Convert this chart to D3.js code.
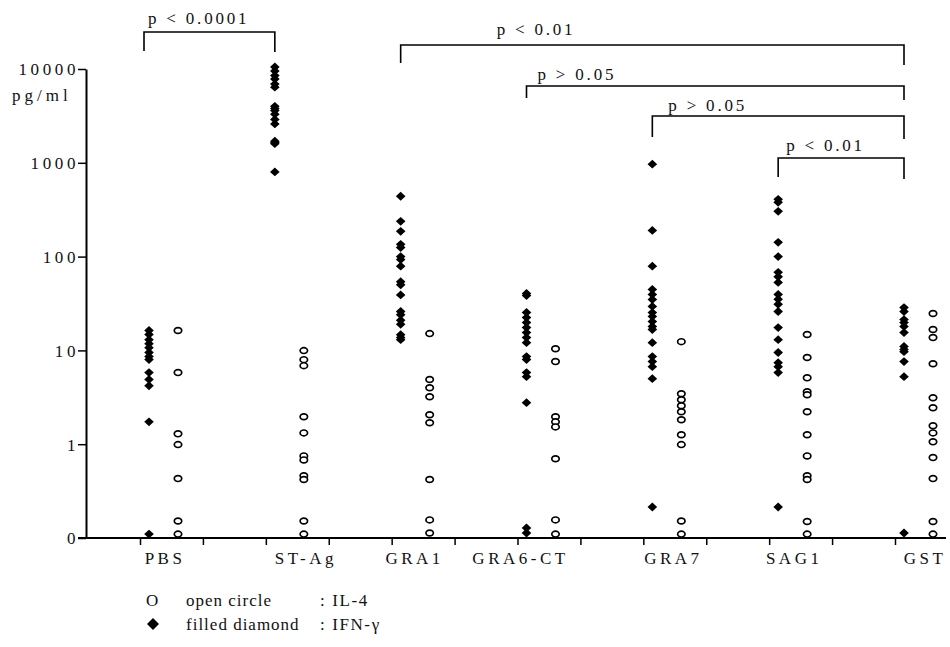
<!DOCTYPE html>
<html lang="en">
<head>
<meta charset="UTF-8">
<title>IFN-gamma / IL-4</title>
<script src="https://d3js.org/d3.v7.min.js"></script>
<style>
  body { margin: 0; background: #fff; }
  svg text { font-family: 'Liberation Serif', 'Times New Roman', 'DejaVu Serif', serif !important; fill: #111; }
</style>
</head>
<body>
<script>
// categories (x axis)
const categories = ["PBS", "ST-Ag", "GRA1", "GRA6-CT", "GRA7", "SAG1", "GST"];

// IFN-gamma, pg/ml (filled diamonds) -- 0.11 etc. are the "0" row
const pbsIFN   = [16.3, 14.8, 13, 11.8, 10.7, 9.5, 8.6, 8, 5.8, 4.9, 4.2, 1.73, 0.11];
const stagIFN  = [10500, 9500, 8500, 7800, 6900, 6400, 4000, 3800, 3600, 3300, 2900, 2600, 1700, 1650, 1600, 800];
const gra1IFN  = [440, 238, 186, 135, 125, 100, 93, 79, 54, 50, 39, 26, 24, 21, 19, 14.7, 13.7, 13];
const gra6IFN  = [40.5, 38.5, 25.4, 22.4, 19.8, 17.5, 15.5, 13.7, 12.1, 8.6, 8, 5.8, 5.25, 2.77, 0.128, 0.113];
const gra7IFN  = [966, 190, 79, 44.7, 39.5, 34.9, 29.4, 25.3, 23, 20.3, 18, 16.7, 12.1, 8.6, 7.6, 6.7, 5, 0.214];
const sag1IFN  = [408, 379, 304, 142, 100, 68, 61, 53, 39.5, 35, 31, 26, 17.5, 13, 9.5, 7.4, 6.7, 5.8, 0.214];
const gstIFN   = [28.6, 26, 21.3, 19.8, 18, 15.5, 11, 10.2, 9.7, 7.6, 5.25, 0.113];

// IL-4, pg/ml (open circles)
const pbsIL4   = [16.3, 5.8, 1.29, 0.99, 0.43, 0.152, 0.11];
const stagIL4  = [9.95, 7.97, 6.88, 1.96, 1.32, 0.75, 0.68, 0.46, 0.42, 0.152, 0.11];
const gra1IL4  = [15.1, 4.9, 4, 3.2, 2.06, 1.69, 0.42, 0.156, 0.113];
const gra6IL4  = [10.4, 7.6, 1.96, 1.73, 1.53, 0.7, 0.156, 0.11];
const gra7IL4  = [12.4, 3.45, 2.98, 2.57, 2.22, 1.82, 1.26, 0.99, 0.152, 0.11];
const sag1IL4  = [14.8, 8.4, 5.1, 3.63, 3.37, 2.22, 1.26, 0.75, 0.46, 0.42, 0.15, 0.11];
const gstIL4   = [24.7, 16.7, 13.7, 7.2, 3.13, 2.45, 1.57, 1.32, 1.06, 0.72, 0.43, 0.15, 0.11];

const ifnValues = [pbsIFN, stagIFN, gra1IFN, gra6IFN, gra7IFN, sag1IFN, gstIFN];
const il4Values = [pbsIL4, stagIL4, gra1IL4, gra6IL4, gra7IL4, sag1IL4, gstIL4];

// y ticks; 0.1 is drawn as "0"
const yTicks = [0.1, 1, 10, 100, 1000, 10000];

// significance brackets
const compFrom   = ["PBS", "GRA1", "GRA6-CT", "GRA7", "SAG1"];
const compTo     = ["ST-Ag", "GST", "GST", "GST", "GST"];
const compLabels = ["p < 0.0001", "p < 0.01", "p > 0.05", "p > 0.05", "p < 0.01"];

const legendLabels = ["open circle", "filled diamond"];
const legendKeys = ["IL-4", "IFN-\u03b3"];

// ---------- drawing ----------
const W = 950, H = 647;
const FONT = "'Liberation Serif', 'Times New Roman', serif";
const svg = d3.select("body").append("svg").attr("width", W).attr("height", H)
  .attr("font-family", FONT);

const y = d3.scaleLog().domain([0.1, 10000]).range([538, 69]);
const xCat = d3.scalePoint().domain(categories).range([140, 895]);
const xSlot = d3.scaleLinear().domain([0, 12]).range([140, 895]);
const dx = 9, cx = 38;   // diamond / circle column offset from the category tick

// y axis
const yAxis = svg.append("g")
  .attr("transform", "translate(86,0)")
  .call(d3.axisLeft(y).tickValues(yTicks).tickSizeOuter(0).tickSizeInner(8)
    .tickFormat(d => d === 0.1 ? "0" : d3.format("d")(d)));
yAxis.attr("font-family", FONT);
yAxis.select(".domain").attr("stroke-width", 2);
yAxis.selectAll(".tick line").attr("stroke-width", 1.5);
yAxis.selectAll(".tick text")
  .attr("font-size", 17).attr("letter-spacing", 3.6)
  .attr("x", -7).attr("dy", "0.35em");

svg.append("text").attr("x", 12).attr("y", 101)
  .attr("font-size", 17).attr("letter-spacing", 4)
  .text("pg/ml");

// x axis
svg.append("line").attr("x1", 78).attr("x2", 946).attr("y1", 538).attr("y2", 538)
  .attr("stroke", "#000").attr("stroke-width", 2);
const xAxis = svg.append("g")
  .attr("transform", "translate(0,538)")
  .call(d3.axisBottom(xSlot).tickValues(d3.range(13)).tickFormat("").tickSize(7));
xAxis.select(".domain").remove();
xAxis.selectAll(".tick line").attr("stroke-width", 1.5);

const labelNudge = [23, 38, 21, 1, 28, 23, 28];
svg.append("g").selectAll("text")
  .data(categories).join("text")
  .attr("x", (d, i) => xCat(d) + labelNudge[i] + 2)
  .attr("y", 564)
  .attr("text-anchor", "middle")
  .attr("font-size", 17).attr("letter-spacing", 3.5)
  .text(d => d);

// marks
const diamondPath = "M0,-4.4L4.8,0L0,4.4L-4.8,0Z";
categories.forEach((c, i) => {
  svg.append("g").selectAll("path")
    .data(ifnValues[i]).join("path")
    .attr("d", diamondPath)
    .attr("transform", v => `translate(${xCat(c) + dx},${y(v)})`)
    .attr("fill", "#000");

  svg.append("g").selectAll("ellipse")
    .data(il4Values[i]).join("ellipse")
    .attr("cx", xCat(c) + cx)
    .attr("cy", v => y(v))
    .attr("rx", 3.7).attr("ry", 2.9)
    .attr("fill", "#fff").attr("stroke", "#000").attr("stroke-width", 1.7);
});

// brackets
const bracketY   = [32, 45, 86, 116, 158];
const leftDrop   = [19, 18, 12, 21, 19];
const rightDrop  = [20, 20, 14, 23, 21];
const textShift  = [4, 96, 11, 16, 8];
const textBase   = [24, 35, 80, 111, 151];
compFrom.forEach((f, i) => {
  const x1 = xCat(f) + dx - (i === 0 ? 5 : 0), x2 = xCat(compTo[i]) + dx;
  const by = bracketY[i];
  svg.append("path")
    .attr("d", `M${x1},${by + leftDrop[i]}V${by}H${x2}V${by + rightDrop[i]}`)
    .attr("fill", "none").attr("stroke", "#000").attr("stroke-width", 1.6);
  svg.append("text")
    .attr("x", x1 + textShift[i]).attr("y", textBase[i])
    .attr("font-size", 17).attr("letter-spacing", 2.8)
    .text(compLabels[i]);
});

// legend
const legY = [606, 630];
svg.append("text").attr("x", 146).attr("y", legY[0]).attr("font-size", 17).text("O");
svg.append("path").attr("d", "M0,-6L6,0L0,6L-6,0Z")
  .attr("transform", `translate(153,${legY[1] - 6})`).attr("fill", "#000");
legendLabels.forEach((l, i) => {
  svg.append("text").attr("x", 186).attr("y", legY[i])
    .attr("font-size", 17).attr("letter-spacing", 1).text(l);
  svg.append("text").attr("x", 320).attr("y", legY[i])
    .attr("font-size", 17).attr("letter-spacing", 1.6).text(":  " + legendKeys[i]);
});
</script>
</body>
</html>
